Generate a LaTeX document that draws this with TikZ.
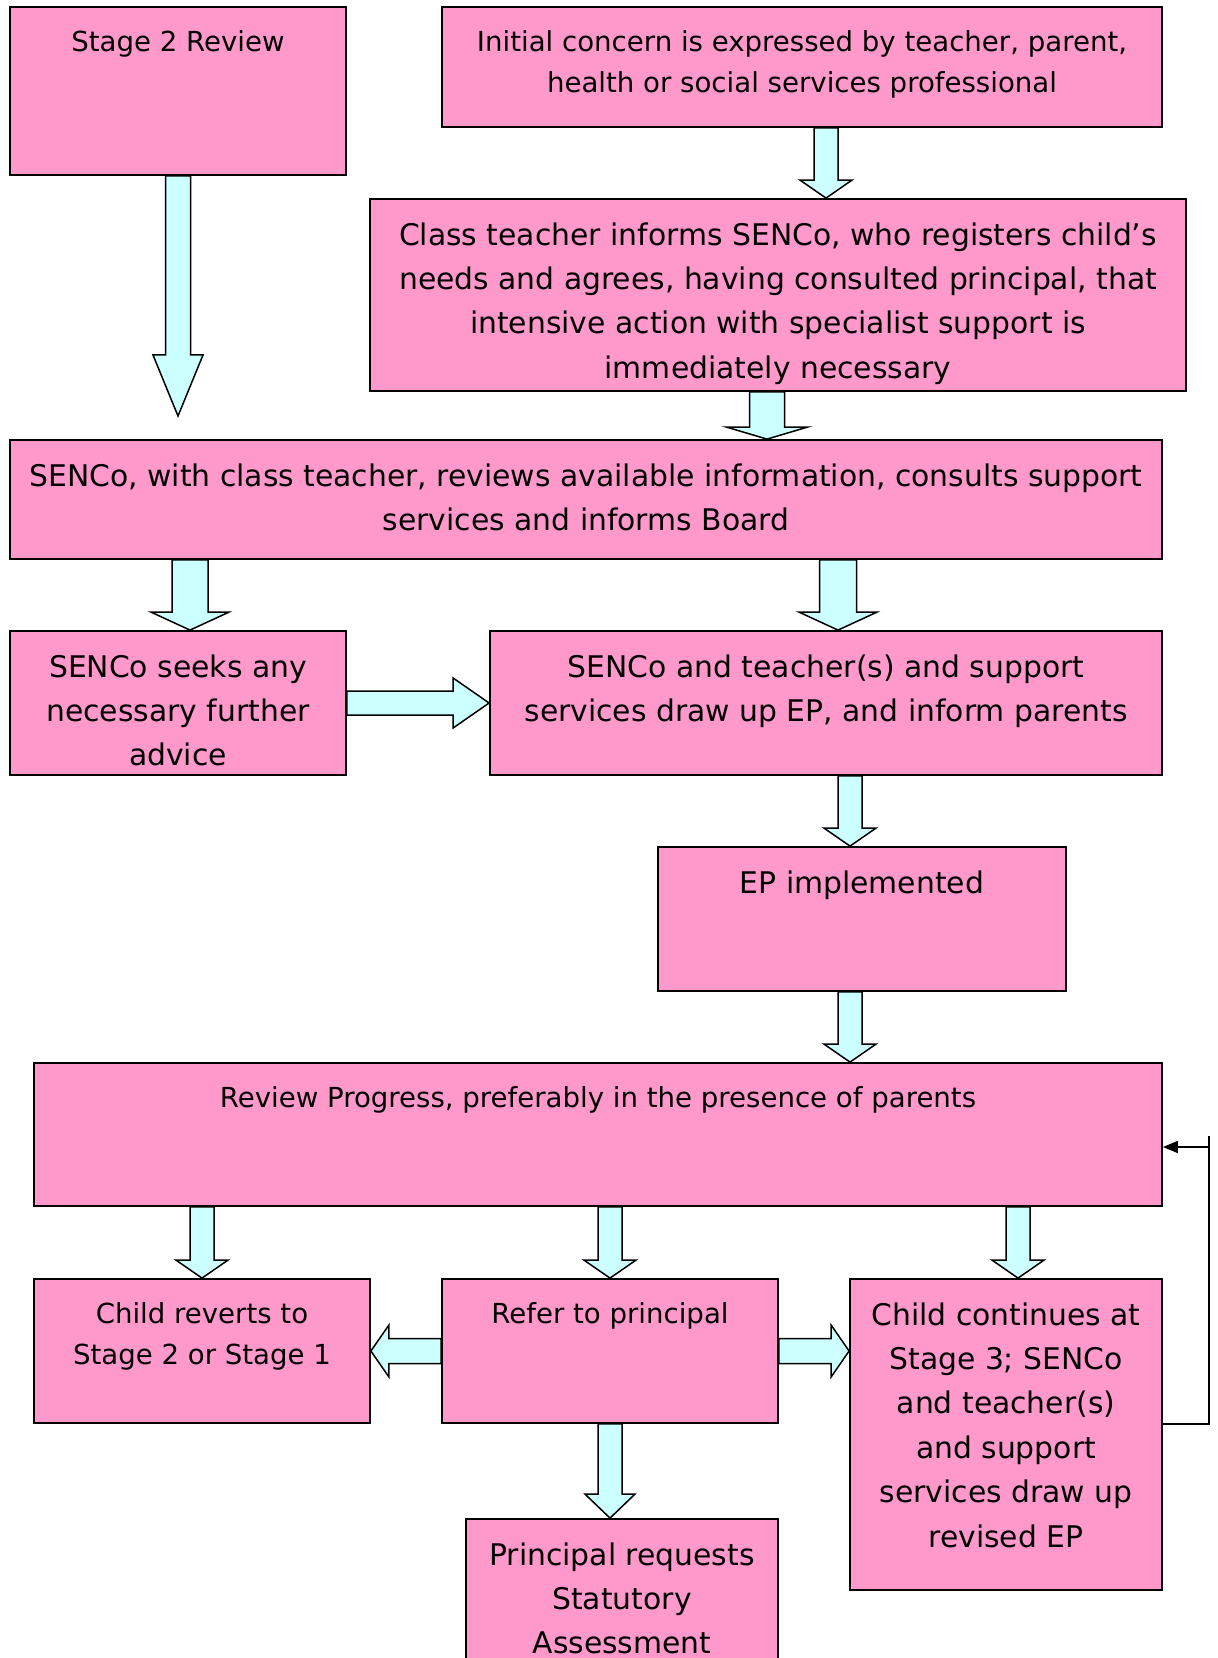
\documentclass[tikz,border=0pt]{standalone}
\usepackage{fontspec}
\setmainfont{DejaVu Sans}
\usetikzlibrary{calc,arrows.meta}

\definecolor{boxpink}{HTML}{FF99CC}
\definecolor{arrowcyan}{HTML}{CCFFFF}

% block arrows: position, from, to, shaft half width, head half width, head length
\newcommand{\vfat}[6]{%
  \coordinate (fa) at (#1,0);
  \draw[fat] ($(fa |- #2)+(-#4,0)$) -- ($(fa |- #3)+(-#4,-#6)$)
    -- ($(fa |- #3)+(-#5,-#6)$) -- (fa |- #3)
    -- ($(fa |- #3)+(#5,-#6)$) -- ($(fa |- #3)+(#4,-#6)$)
    -- ($(fa |- #2)+(#4,0)$) -- cycle;}
\newcommand{\hfat}[6]{%
  \coordinate (fb) at (0,#1);
  \draw[fat] ($(fb -| #2)+(0,-#4)$) -- ($(fb -| #3)+({-1*(#6)},-#4)$)
    -- ($(fb -| #3)+({-1*(#6)},-#5)$) -- (fb -| #3)
    -- ($(fb -| #3)+({-1*(#6)},#5)$) -- ($(fb -| #3)+({-1*(#6)},#4)$)
    -- ($(fb -| #2)+(0,#4)$) -- cycle;}

\begin{document}
\begin{tikzpicture}[x=0.5pt,y=-0.5pt]
  \tikzstyle{box}=[draw,fill=boxpink,line width=0.9pt,inner sep=0pt]
  \tikzstyle{fat}=[draw,fill=arrowcyan,line width=0.75pt]
  \tikzstyle{txt}=[anchor=north,align=center,inner sep=0pt,yshift=-12pt,font=\fontsize{13.8}{20.5}\selectfont]
  \tikzstyle{txtbig}=[txt,font=\fontsize{14.9}{22.2}\selectfont]

  \useasboundingbox (0,0) rectangle (1218,1658);

  \node[box,minimum width=168pt,minimum height=84pt] (stagetwo) at (178,91) {};
  \node[box,minimum width=360pt,minimum height=60pt] (initial) at (802,67) {};
  \node[box,minimum width=408pt,minimum height=96pt] (classteach) at (778,295) {};
  \node[box,minimum width=576pt,minimum height=59.5pt] (review) at (586,499.5) {};
  \node[box,minimum width=168pt,minimum height=72pt] (seeks) at (178,703) {};
  \node[box,minimum width=336pt,minimum height=72pt] (drawup) at (826,703) {};
  \node[box,minimum width=204pt,minimum height=72pt] (epimpl) at (862,919) {};
  \node[box,minimum width=564pt,minimum height=71.5pt] (progress) at (598,1134.5) {};
  \node[box,minimum width=168pt,minimum height=72pt] (reverts) at (202,1351) {};
  \node[box,minimum width=168pt,minimum height=72pt] (refer) at (610,1351) {};
  \node[box,minimum width=156pt,minimum height=155.5pt] (continues) at (1006,1434.5) {};
  \node[box,minimum width=156pt,minimum height=90.5pt] (principal) at (622,1609.5) {};

  \node[txt] (stagetwotext) at (stagetwo.north) {Stage 2 Review};
  \node[txt] (initialtext) at (initial.north) {Initial concern is expressed by teacher, parent,\\ health or social services professional};
  \node[txtbig] (classteachtext) at (classteach.north) {Class teacher informs SENCo, who registers child’s\\ needs and agrees, having consulted principal, that\\ intensive action with specialist support is\\ immediately necessary};
  \node[txtbig] (reviewtext) at (review.north) {SENCo, with class teacher, reviews available information, consults support\\ services and informs Board};
  \node[txtbig] (seekstext) at (seeks.north) {SENCo seeks any\\ necessary further\\ advice};
  \node[txtbig] (drawuptext) at (drawup.north) {SENCo and teacher(s) and support\\ services draw up EP, and inform parents};
  \node[txtbig] (epimpltext) at (epimpl.north) {EP implemented};
  \node[txt] (progresstext) at (progress.north) {Review Progress, preferably in the presence of parents};
  \node[txt] (revertstext) at (reverts.north) {Child reverts to\\ Stage 2 or Stage 1};
  \node[txt] (refertext) at (refer.north) {Refer to principal};
  \node[txtbig] (continuestext) at (continues.north) {Child continues at\\ Stage 3; SENCo\\ and teacher(s)\\ and support\\ services draw up\\ revised EP};
  \node[txtbig] (principaltext) at (principal.north) {Principal requests\\ Statutory\\ Assessment};

  \coordinate (stagetip) at (178,416);
  \vfat{826}{initial.south}{classteach.north}{12}{26}{18}
  \vfat{178}{stagetwo.south}{stagetip}{12.5}{25}{61}
  \vfat{767}{classteach.south}{review.north}{17.5}{40.5}{12}
  \vfat{190}{review.south}{seeks.north}{18}{39}{18}
  \vfat{838}{review.south}{drawup.north}{18.5}{39}{18}
  \hfat{703}{seeks.east}{drawup.west}{12}{25}{36}
  \vfat{850}{drawup.south}{epimpl.north}{12}{26}{18}
  \vfat{850}{epimpl.south}{progress.north}{12}{26}{18}
  \vfat{202}{progress.south}{reverts.north}{12}{26}{18}
  \vfat{610}{progress.south}{refer.north}{12}{26}{18}
  \vfat{1018}{progress.south}{continues.north}{12}{26}{18}
  \hfat{1351}{refer.west}{reverts.east}{12.5}{26}{-18}
  \hfat{1351}{refer.east}{continues.west}{12.5}{26}{18}
  \vfat{610}{refer.south}{principal.north}{12}{25}{24}

  \coordinate (looptop) at (1209,1136);
  \coordinate (loopin) at (1209,1147);
  \draw[line width=0.75pt] (refer.south -| continues.east) -| (looptop);
  \draw[line width=0.75pt,-{Triangle[length=7.5pt,width=6pt]}] (loopin) -- (loopin -| progress.east);
\end{tikzpicture}
\end{document}
